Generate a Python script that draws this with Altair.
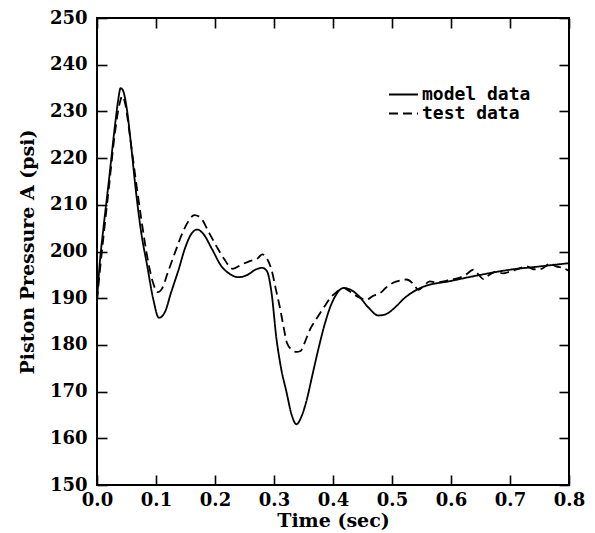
import altair as alt
import pandas as pd

# ---- data ----
model_t = [0.000, 0.005, 0.010, 0.020, 0.030, 0.036, 0.040, 0.044, 0.050, 0.058,
           0.065, 0.075, 0.085, 0.095, 0.105, 0.115, 0.125, 0.138, 0.150, 0.160,
           0.170, 0.180, 0.195, 0.210, 0.225, 0.240, 0.255, 0.270, 0.280, 0.288,
           0.296, 0.304, 0.312, 0.321, 0.330, 0.338, 0.346, 0.355, 0.365, 0.375,
           0.385, 0.395, 0.405, 0.418, 0.430, 0.445, 0.460, 0.477, 0.490, 0.505,
           0.520, 0.535, 0.550, 0.600, 0.650, 0.700, 0.750, 0.800]
model_p = [189.5, 198.0, 204.0, 215.0, 226.5, 232.5, 235.0, 234.5, 231.0, 222.5,
           214.0, 204.0, 197.0, 190.0, 185.8, 187.0, 191.0, 196.0, 201.0, 203.8,
           204.7, 203.8, 200.5, 197.0, 195.2, 194.5, 195.0, 196.2, 196.5, 195.8,
           191.0, 181.5, 175.0, 170.0, 165.0, 163.0, 164.5, 168.0, 173.5, 179.0,
           184.0, 188.0, 190.7, 192.2, 191.8, 190.3, 188.0, 186.3, 186.6, 188.0,
           189.9, 191.3, 192.3, 193.7, 195.0, 196.1, 196.8, 197.5]

test_t = [0.000, 0.005, 0.010, 0.020, 0.030, 0.038, 0.043, 0.048, 0.055, 0.065,
          0.075, 0.085, 0.095, 0.103, 0.110, 0.120, 0.132, 0.145, 0.155, 0.165,
          0.175, 0.190, 0.203, 0.215, 0.230, 0.245, 0.260, 0.272, 0.280, 0.288,
          0.296, 0.303, 0.310, 0.316, 0.322, 0.330, 0.338, 0.345, 0.352, 0.361,
          0.370, 0.378, 0.387, 0.395, 0.405, 0.417, 0.428, 0.437, 0.447, 0.457,
          0.468, 0.480, 0.490, 0.502, 0.515, 0.525, 0.535, 0.545, 0.555, 0.564,
          0.575, 0.587, 0.600, 0.612, 0.625, 0.638, 0.647, 0.655, 0.665, 0.677,
          0.688, 0.700, 0.714, 0.728, 0.740, 0.751, 0.760, 0.768, 0.778, 0.790,
          0.800]
test_p = [189.5, 196.0, 202.0, 213.5, 225.0, 231.5, 233.3, 231.5, 225.5, 216.0,
          207.0, 199.0, 193.3, 191.3, 192.0, 195.5, 199.7, 204.0, 206.5, 207.8,
          207.3, 204.0, 201.0, 198.5, 196.3, 197.2, 198.0, 198.5, 199.4, 198.5,
          196.0, 192.0, 188.0, 184.0, 180.4, 179.0, 178.5, 178.7, 180.5, 183.3,
          185.2, 186.8, 188.5, 190.0, 191.2, 192.2, 191.5, 190.7, 190.0, 189.7,
          190.5, 191.1, 192.3, 193.3, 193.8, 194.0, 193.2, 191.8, 192.8, 193.6,
          193.4, 193.6, 194.0, 194.3, 195.0, 196.1, 195.0, 194.1, 195.0, 195.7,
          195.3, 195.7, 196.3, 196.8, 196.2, 196.2, 196.8, 197.5, 196.8, 196.5,
          195.8]

series_names = ["model data", "test data"]
x_ticks = [0.0, 0.1, 0.2, 0.3, 0.4, 0.5, 0.6, 0.7, 0.8]
y_ticks = [150, 160, 170, 180, 190, 200, 210, 220, 230, 240, 250]

df = pd.concat([
    pd.DataFrame({"t": model_t, "p": model_p, "series": series_names[0], "i": range(len(model_t))}),
    pd.DataFrame({"t": test_t, "p": test_p, "series": series_names[1], "i": range(len(test_t))}),
])

FONT = "DejaVu Serif"
common_axis = dict(
    offset=-10, tickSize=10, tickWidth=1.6, tickColor="black",
    domain=False, grid=False, labelFlush=False, labelOverlap=False,
    labelFont=FONT, labelFontSize=18, labelFontWeight="bold", labelColor="black",
    titleFont=FONT, titleFontSize=19, titleFontWeight="bold", titleColor="black",
)

dash = alt.StrokeDash(
    "series:N",
    scale=alt.Scale(domain=series_names, range=[[1, 0], [9, 5]]),
    legend=alt.Legend(
        title=None, orient="none", legendX=291, legendY=70, padding=0,
        symbolType="stroke", symbolSize=841, symbolStrokeWidth=1.8,
        symbolStrokeColor="black", symbolOffset=0,
        labelFont="DejaVu Sans Mono", labelFontSize=18, labelFontWeight="bold",
        labelColor="black", labelOffset=3, rowPadding=0, clipHeight=13,
    ),
)

xs = alt.Scale(domain=[0, 0.8], nice=False, zero=False)
ys = alt.Scale(domain=[150, 250], nice=False, zero=False)

base = alt.Chart(df).mark_line(color="black", strokeWidth=1.8, interpolate="monotone")

model = base.transform_filter(alt.datum.series == series_names[0]).encode(
    x=alt.X("t:Q", scale=xs, axis=alt.Axis(
        orient="bottom", values=x_ticks, format=".1f", labelPadding=6,
        title="Time (sec)", titleY=51, titleBaseline="alphabetic", **common_axis)),
    y=alt.Y("p:Q", scale=ys, axis=alt.Axis(
        orient="left", values=y_ticks, labelPadding=10,
        title="Piston Pressure A (psi)", titleX=-74, titleY=233.5,
        titleBaseline="alphabetic", **common_axis)),
    strokeDash=dash,
    order="i:Q",
)

test = base.transform_filter(alt.datum.series == series_names[1]).encode(
    x=alt.X("t:Q", scale=xs, axis=alt.Axis(
        orient="top", values=x_ticks, labels=False, title=None, **common_axis)),
    y=alt.Y("p:Q", scale=ys, axis=alt.Axis(
        orient="right", values=y_ticks, labels=False, title=None, **common_axis)),
    strokeDash=dash,
    order="i:Q",
)

chart = alt.layer(model, test).resolve_axis(x="independent", y="independent").properties(
    width=472, height=467,
    autosize=alt.AutoSizeParams(type="none"),
    padding={"left": 97, "top": 18, "right": 26, "bottom": 48},
    background="white",
).configure_view(stroke="black", strokeWidth=2)

chart.save("out.html", embed_options={"renderer": "svg", "actions": False})
